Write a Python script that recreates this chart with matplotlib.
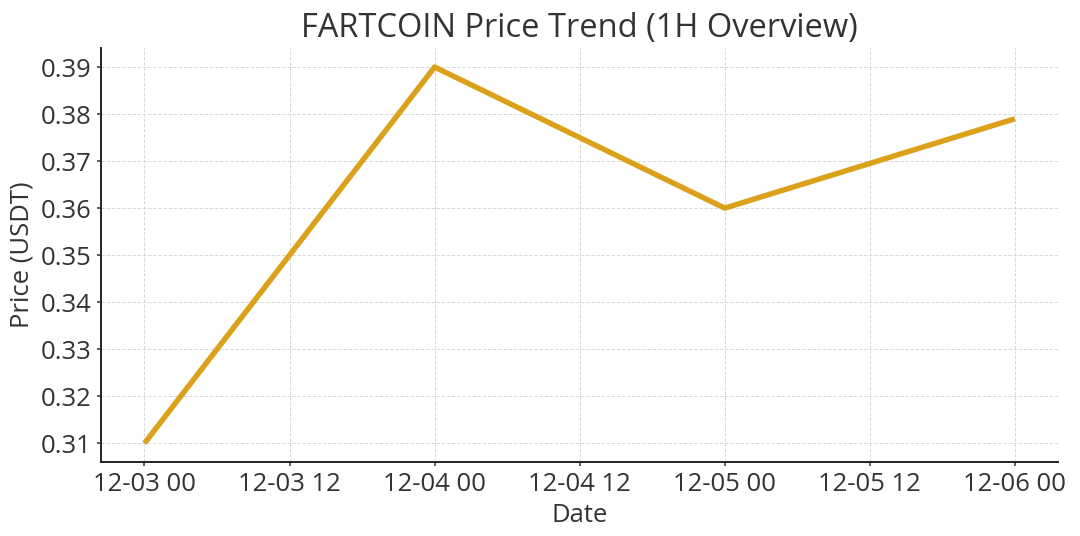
import matplotlib
matplotlib.use("Agg")
import matplotlib.pyplot as plt
import matplotlib.dates as mdates
import pandas as pd

# data
dates = ["2024-12-03 00:00", "2024-12-04 00:00", "2024-12-05 00:00", "2024-12-06 00:00"]
prices = [0.310, 0.390, 0.360, 0.379]
title = "FARTCOIN Price Trend (1H Overview)"
x_label = "Date"
y_label = "Price (USDT)"

plt.rcParams["font.family"] = ["Open Sans", "DejaVu Sans"]
plt.rcParams["text.color"] = "#333333"
plt.rcParams["axes.labelcolor"] = "#333333"
plt.rcParams["xtick.color"] = "#333333"
plt.rcParams["ytick.color"] = "#333333"

x = pd.to_datetime(dates)

dpi = 140
fig, ax = plt.subplots(figsize=(1080 / dpi, 536 / dpi), dpi=dpi)
fig.subplots_adjust(left=0.0935, right=0.98, top=0.91, bottom=0.138)

ax.plot(x, prices, color="#DCA11B", linewidth=2.8, solid_capstyle="butt")

ax.set_title(title, fontsize=16.8)
ax.set_xlabel(x_label, fontsize=13.2, labelpad=3)
ax.set_ylabel(y_label, fontsize=13.2, labelpad=3)

ax.xaxis.set_major_locator(mdates.HourLocator(byhour=[0, 12]))
ax.xaxis.set_major_formatter(mdates.DateFormatter("%m-%d %H"))
ax.tick_params(labelsize=13.2, length=2, pad=3)
ax.set_yticks([0.31, 0.32, 0.33, 0.34, 0.35, 0.36, 0.37, 0.38, 0.39])

ax.grid(True, linestyle="--", linewidth=0.5, color="#d9d9d9")
ax.set_axisbelow(True)
for side in ["top", "right"]:
    ax.spines[side].set_visible(False)
for side in ["left", "bottom"]:
    ax.spines[side].set_color("#222222")
    ax.spines[side].set_linewidth(1.0)

fig.savefig("out.png", dpi=dpi)
